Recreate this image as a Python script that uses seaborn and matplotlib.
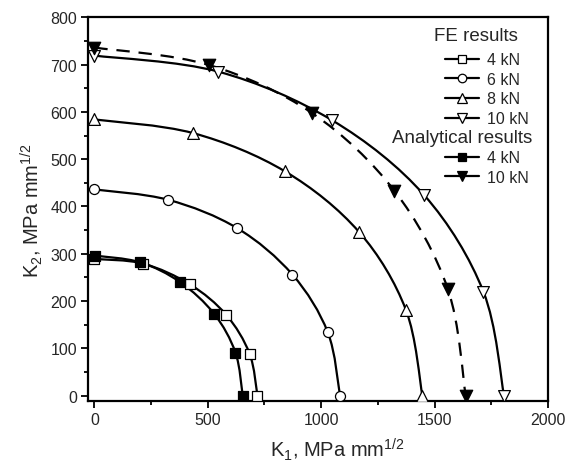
import numpy as np
import matplotlib
matplotlib.use("Agg")
import matplotlib.pyplot as plt
import seaborn as sns
from matplotlib.path import Path
from matplotlib.patches import PathPatch
from matplotlib.lines import Line2D

# FE results (K1, K2 in MPa mm^1/2)
fe_4kn_k1 = [0, 216, 422, 581, 684, 719]
fe_4kn_k2 = [289, 279, 235, 171, 89, 0]
fe_6kn_k1 = [0, 326, 630, 873, 1029, 1083]
fe_6kn_k2 = [436, 414, 354, 256, 134, 0]
fe_8kn_k1 = [0, 436, 841, 1167, 1373, 1446]
fe_8kn_k2 = [584, 555, 474, 346, 182, 0]
fe_10kn_k1 = [0, 547, 1049, 1454, 1715, 1806]
fe_10kn_k2 = [719, 685, 582, 424, 220, 0]

# Analytical results
an_4kn_k1 = [3, 201, 378, 528, 622, 654]
an_4kn_k2 = [296, 282, 240, 173, 91, 0]
an_10kn_k1 = [0, 506, 961, 1323, 1558, 1637]
an_10kn_k2 = [736, 699, 597, 433, 226, 0]

sns.set_style("ticks")
plt.rcParams["font.family"] = ["Liberation Sans", "DejaVu Sans"]
plt.rcParams["mathtext.fontset"] = "custom"
plt.rcParams["mathtext.rm"] = "Liberation Sans"
plt.rcParams["mathtext.default"] = "regular"


def smooth_path(x, y):
    """Catmull-Rom style bezier path through the given points."""
    pts = np.column_stack([x, y]).astype(float)
    verts = [pts[0]]
    codes = [Path.MOVETO]
    n = len(pts)
    for i in range(n - 1):
        p0 = pts[i - 1] if i > 0 else pts[i]
        p1, p2 = pts[i], pts[i + 1]
        p3 = pts[i + 2] if i + 2 < n else pts[i + 1]
        verts += [p1 + (p2 - p0) / 6, p2 - (p3 - p1) / 6, p2]
        codes += [Path.CURVE4] * 3
    return Path(verts, codes)


series = [
    # k1, k2, marker, face, size, linestyle, label
    (fe_4kn_k1, fe_4kn_k2, "s", "white", 58, "-", "4 kN"),
    (fe_6kn_k1, fe_6kn_k2, "o", "white", 52, "-", "6 kN"),
    (fe_8kn_k1, fe_8kn_k2, "^", "white", 72, "-", "8 kN"),
    (fe_10kn_k1, fe_10kn_k2, "v", "white", 72, "-", "10 kN"),
    (an_4kn_k1, an_4kn_k2, "s", "black", 58, "-", "4 kN"),
    (an_10kn_k1, an_10kn_k2, "v", "black", 80, (0, (6, 4)), "10 kN"),
]

fig = plt.figure(figsize=(5.73, 4.64), dpi=100)
ax = fig.add_axes([0.1536, 0.1330, 0.8028, 0.8276])

handles = []
for k1, k2, mk, face, size, ls, label in series:
    ax.add_patch(PathPatch(smooth_path(k1, k2), facecolor="none",
                           edgecolor="black", lw=1.6, linestyle=ls, zorder=2))
    sns.scatterplot(x=k1, y=k2, marker=mk, s=size, color=face,
                    edgecolor="black", linewidth=0.9, ax=ax, zorder=3)
    handles.append(Line2D([], [], color="black", lw=1.6, marker=mk,
                          markersize=np.sqrt(size) * 0.85,
                          markerfacecolor=face, markeredgecolor="black",
                          markeredgewidth=0.9, label=label))

blank = Line2D([], [], linestyle="none", marker="none", label=" ")
leg_handles = handles[:4] + [blank] + handles[4:]
ax.legend(handles=leg_handles, loc="upper left",
          bbox_to_anchor=(0.776, 0.909), frameon=False, fontsize=11.5,
          handlelength=2.1, handletextpad=0.5, labelspacing=0.29,
          borderpad=0, borderaxespad=0)
ax.text(0.935, 0.952, "FE results", transform=ax.transAxes,
        ha="right", va="center", fontsize=13.5)
ax.text(0.965, 0.6875, "Analytical results", transform=ax.transAxes,
        ha="right", va="center", fontsize=13.5)

ax.set_xlim(-28, 2000)
ax.set_ylim(-12, 800)
ax.set_xticks([0, 500, 1000, 1500, 2000])
ax.set_xticks(np.arange(250, 2000, 500), minor=True)
ax.set_yticks(np.arange(0, 801, 100))
ax.set_yticks(np.arange(50, 800, 100), minor=True)
ax.tick_params(axis="both", which="major", direction="out", length=5,
               width=1.3, labelsize=11.5, pad=3, color="black")
ax.tick_params(axis="both", which="minor", direction="out", length=3,
               width=1.3, color="black")
for sp in ax.spines.values():
    sp.set_visible(True)
    sp.set_linewidth(1.6)
    sp.set_color("black")

ax.set_xlabel(r"K$_1$, MPa mm$^{1/2}$", fontsize=14.5)
ax.set_ylabel(r"K$_2$, MPa mm$^{1/2}$", fontsize=14.5, labelpad=4)
ax.xaxis.set_label_coords(0.543, -0.09)

fig.savefig("out.png", dpi=100)
